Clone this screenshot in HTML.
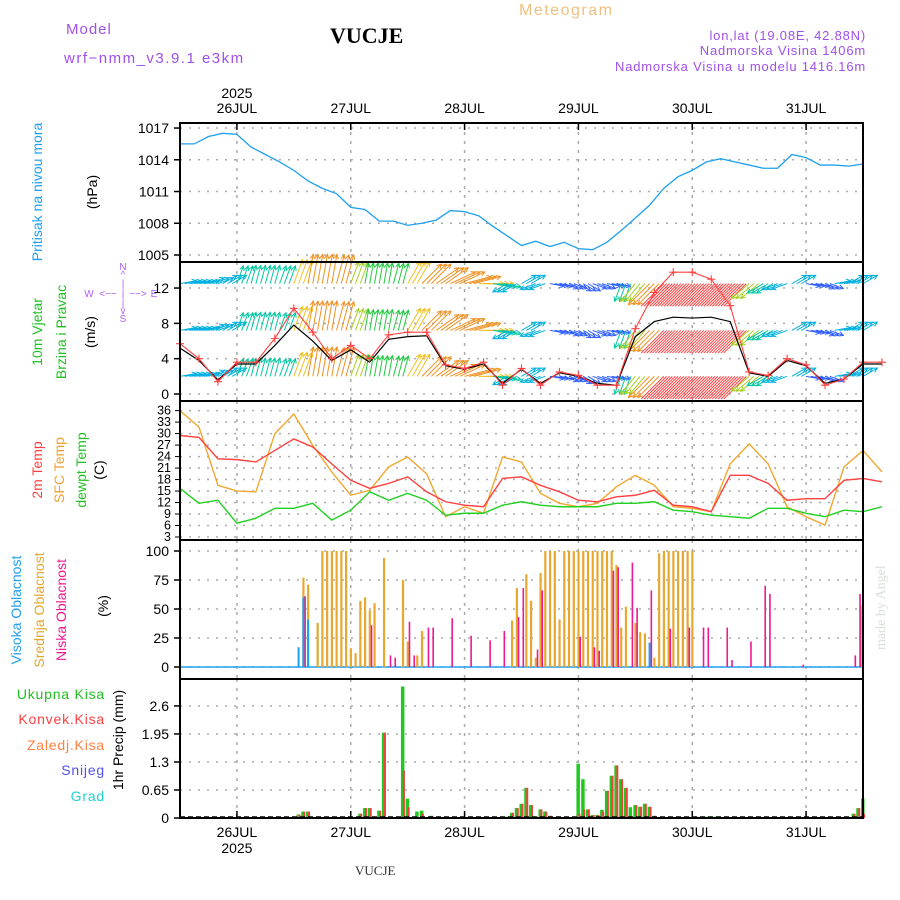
<!DOCTYPE html>
<html><head><meta charset="utf-8"><style>
body{margin:0;background:#fff;}
svg{display:block;font-family:"Liberation Sans",sans-serif;}
</style></head><body>
<svg id="c" width="900" height="900" viewBox="0 0 900 900" xmlns="http://www.w3.org/2000/svg">
<rect width="900" height="900" fill="#fff"/>
<text x="66" y="34" font-size="15" fill="#a050e8" letter-spacing="1">Model</text>
<text x="64" y="63" font-size="15" fill="#a050e8" letter-spacing="1.5">wrf−nmm_v3.9.1  e3km</text>
<text x="330" y="43" font-size="22" font-weight="bold" font-family="Liberation Serif,serif" fill="#000">VUCJE</text>
<text x="519" y="15" font-size="16" fill="#f0c080" letter-spacing="1.5">Meteogram</text>
<text x="866" y="40" font-size="13" fill="#a050e8" text-anchor="end" letter-spacing="0.8">lon,lat (19.08E, 42.88N)</text>
<text x="866" y="55" font-size="13" fill="#a050e8" text-anchor="end" letter-spacing="0.8">Nadmorska Visina 1406m</text>
<text x="866" y="71" font-size="13" fill="#a050e8" text-anchor="end" letter-spacing="0.8">Nadmorska Visina u modelu 1416.16m</text>
<text x="355" y="875" font-size="13" font-family="Liberation Serif,serif" fill="#333">VUCJE</text>
<text transform="translate(885,650) rotate(-90)" font-size="14" font-family="Liberation Serif,serif" fill="#d8e0d8">made by Angel</text>

<text transform="translate(42,192) rotate(-90)" font-size="14" fill="#1ea0f0" text-anchor="middle">Pritisak na nivou mora</text>
<text transform="translate(97,192) rotate(-90)" font-size="14" fill="#000" text-anchor="middle">(hPa)</text>
<text transform="translate(42,332) rotate(-90)" font-size="14" fill="#20c020" text-anchor="middle">10m Vjetar</text>
<text transform="translate(66,332) rotate(-90)" font-size="14" fill="#20c020" text-anchor="middle">Brzina i Pravac</text>
<text transform="translate(95,332) rotate(-90)" font-size="14" fill="#000" text-anchor="middle">(m/s)</text>
<g fill="#b060f0" font-size="10" text-anchor="middle">
<text x="123" y="270">N</text><text x="123" y="278">^</text><text x="123" y="287">|</text>
<text x="89" y="297">W</text><text x="108" y="297">&lt;−−</text><text x="123" y="297">|</text><text x="138" y="297">−−&gt;</text><text x="154" y="297">E</text>
<text x="123" y="307">|</text><text x="123" y="314">v</text><text x="123" y="322">S</text></g>
<text transform="translate(42,470) rotate(-90)" font-size="14" fill="#ff4040" text-anchor="middle">2m Temp</text>
<text transform="translate(64,470) rotate(-90)" font-size="14" fill="#f0a030" text-anchor="middle">SFC Temp</text>
<text transform="translate(86,470) rotate(-90)" font-size="14" fill="#20c020" text-anchor="middle">dewpt Temp</text>
<text transform="translate(104,470) rotate(-90)" font-size="14" fill="#000" text-anchor="middle">(C)</text>
<text transform="translate(21,610) rotate(-90)" font-size="14" fill="#1ea0f0" text-anchor="middle">Visoka Oblacnost</text>
<text transform="translate(44,610) rotate(-90)" font-size="14" fill="#e0a830" text-anchor="middle">Srednja Oblacnost</text>
<text transform="translate(66,610) rotate(-90)" font-size="14" fill="#f01890" text-anchor="middle">Niska Oblacnost</text>
<text transform="translate(108,606) rotate(-90)" font-size="14" fill="#000" text-anchor="middle">(%)</text>
<g font-size="14" text-anchor="end" letter-spacing="0.8">
<text x="105" y="699" fill="#20c020">Ukupna  Kisa</text>
<text x="105" y="724" fill="#ff4040">Konvek.Kisa</text>
<text x="105" y="750" fill="#ff8040">Zaledj.Kisa</text>
<text x="105" y="775" fill="#5050f0">Snijeg</text>
<text x="105" y="801" fill="#20d0d0">Grad</text></g>
<text transform="translate(123,740) rotate(-90)" font-size="14" fill="#000" text-anchor="middle">1hr Precip (mm)</text>
<g id="plot"></g>
</svg>
<script>
// ---------- data ----------
const dayLabels=["26JUL","27JUL","28JUL","29JUL","30JUL","31JUL"];
const dayHours=[12,36,60,84,108,132];
const pressTicks=[1005,1008,1011,1014,1017];
const windTicks=[0,4,8,12];
const tempTicks=[3,6,9,12,15,18,21,24,27,30,33,36];
const cloudTicks=[0,25,50,75,100];
const precipTicks=[0,0.65,1.3,1.95,2.6];
const pressure=[1015.5,1015.5,1016.2,1016.5,1016.4,1015.2,1014.5,1013.8,1013,1012,1011.3,1010.8,1009.5,1009.3,1008.2,1008.2,1007.8,1008,1008.3,1009.2,1009.1,1008.7,1007.7,1006.8,1005.9,1006.3,1005.8,1006.2,1005.6,1005.5,1006.2,1007.3,1008.5,1009.7,1011.3,1012.4,1013,1013.8,1014.1,1013.8,1013.5,1013.2,1013.2,1014.5,1014.2,1013.5,1013.5,1013.4,1013.6];
const temp2m=[29.5,29,23.4,23.2,22.6,25.6,28.6,26.5,22.1,17.8,15.7,17,18.7,14.8,12.2,11.3,10.9,18.3,18.7,16.5,14.8,12.6,12.2,13.5,13.9,15.2,11.3,10.9,9.6,19.1,19.1,17,12.6,13,13,17.8,18.3,17.4];
const tempSfc=[36,31.7,16.5,15,14.8,30,35.1,26.9,20,13.9,15.2,21.3,23.9,19.5,8.3,10.9,9.2,23.9,22.6,14.4,11.8,10.9,11.8,16.1,19.1,16.5,10.9,10.5,9.6,22.1,27.3,22.1,10.9,8.3,6.1,21.3,25.6,20];
const tempDew=[15.7,11.8,12.6,6.6,7.9,10.5,10.5,11.8,7.4,10,14.8,12.6,14.4,12.6,8.7,9.2,9.2,11.3,12.2,11.3,10.9,10.9,10.9,11.8,11.8,12.2,10,9.6,8.7,8.3,7.9,10.5,10.5,9.2,8.3,10,9.6,10.9];
const windSpeed=[5.7,4,1.4,3.6,3.6,6.3,9.7,7,4,5.5,4,6.7,7,7,3.3,2.9,3.6,1,2.9,1,2.5,2.1,1,1,7.4,11.5,13.8,13.8,13,10,2.5,2.1,4,3.3,1,1.7,3.6,3.6];
const windMean=[5.2,3.8,1.6,3.4,3.4,5.5,7.8,6,3.8,5,3.6,6.2,6.5,6.6,3.2,2.8,3.4,1.2,2.8,1.2,2.4,2,1.2,1,6.5,8.2,8.7,8.6,8.7,8.2,2.4,2,3.8,3.2,1.2,1.7,3.4,3.4];
const windDir=[80,80,70,60,20,15,15,20,20,10,10,15,20,10,10,15,30,45,55,65,75,90,100,240,60,250,100,110,120,110,100,200,220,225,225,225,225,225,225,225,230,240,250,60,100,110,80,60,60];
const windVec=[3,3,3,3,4,4,4,4,7,9,9,9,6,5,5,5,7,8,8,8,8,7,4,3,3,3,2,2,2,2,2,4,6,9,13,13,13,13,13,12,6,4,3,3,2,2,3,3,3];
const windRows=[2,7.2,12.5];
const midHours=[26,27,29,30,31,32,33,34,35,36,37,38,39,40,41,43,47,48,50,51,70,71,73,74,75,76,77,78,79,80,81,82,83,84,85,86,87,88,89,90,91,92,93,94,96,97,98,100,101,102,103,104,105,106,107,108,143.5];
const midVals=[77,71,38,100,100,100,100,100,100,16,12,57,60,49,55,94,75,22,10,31,40,68,80,57,8,81,100,100,100,41,100,100,100,100,100,100,100,100,100,100,100,88,34,52,38,30,29,8,98,100,100,100,100,100,100,100,53];
const lowHours=[26,40,44,45,48,49,52,53,57,61,65,68,71,72,75,76,84,87,88,91,92,95,96,99,103,107,110,111,115,116,120,123,124,131,142,143];
const lowVals=[61,36,10,8,39,10,34,34,42,27,23,31,43,68,15,66,26,17,14,83,86,90,51,66,33,34,34,34,34,6,22,70,63,2,10,63];
const highHours=[25,26,27,99];
const highVals=[17,60,41,21];
const rainHours=[25,26,27,38,39,40,42,43,47,48,50,51,53,68,69,70,71,72,73,74,75,76,77,78,84,85,86,87,88,89,90,91,92,93,94,95,96,97,98,99,100,109,110,111,112,113,142,143,144];
const rainTotal=[0.08,0.15,0.15,0.1,0.23,0.23,0.17,1.98,3.05,0.45,0.15,0.17,0.05,0.03,0.03,0.12,0.23,0.33,0.7,0.3,0.03,0.2,0.15,0.05,1.26,0.9,0.2,0.07,0.07,0.19,0.63,0.98,1.22,0.9,0.7,0.25,0.3,0.26,0.33,0.26,0.05,0.03,0.03,0.03,0.03,0.03,0.1,0.23,0.45];
const rainConv=[0.08,0.15,0.15,0.1,0.23,0.23,0.17,1.98,1.1,0.25,0,0.1,0.05,0.03,0.03,0.12,0.23,0.33,0.7,0.3,0.03,0.2,0.15,0.05,0.1,0.2,0.2,0.07,0.07,0.15,0.63,0.98,1.22,0.9,0.7,0,0.3,0.26,0.33,0.26,0.05,0,0,0,0,0,0.1,0.23,0.1];

// ---------- scales ----------
const X0=180,X1=863,HRS=144;
const xh=h=>X0+h*(X1-X0)/HRS;
const yP=p=>255-(p-1005)*10.58;
const yW=s=>394-s*8.83;
const yT=t=>537-(t-3)*3.83;
const yC=c=>667-c*1.16;
const yR=m=>818-m*43.1;
const panels=[[123,262],[262,401],[401,540],[540,679],[679,818]];
const NS="http://www.w3.org/2000/svg";
const plot=document.getElementById('plot');
function mk(tag,at,parent){const e=document.createElementNS(NS,tag);for(const k in at)e.setAttribute(k,at[k]);(parent||plot).appendChild(e);return e;}
function grp(name){const g=mk('g',{});


return g;}

const gridG=grp('grid');
panels.forEach(([a,b])=>{dayHours.forEach(h=>mk('line',{x1:xh(h),x2:xh(h),y1:a,y2:b,stroke:'#aaa','stroke-width':1.5,'stroke-dasharray':'3,6'},gridG));});
function hgrid(vals,f,a,b){vals.forEach(v=>{const y=f(v);if(y>a+2&&y<b-2)mk('line',{x1:X0,x2:X1,y1:y,y2:y,stroke:'#aaa','stroke-width':1.5,'stroke-dasharray':'2,7'},gridG);});}
hgrid(pressTicks,yP,123,262);hgrid(windTicks,yW,262,401);hgrid(tempTicks,yT,401,540);hgrid(cloudTicks,yC,540,679);hgrid(precipTicks,yR,679,818);

function ticks(vals,f,name){const g=grp(name);vals.forEach(v=>{const y=f(v);mk('line',{x1:X0-6,x2:X0,y1:y,y2:y,stroke:'#000','stroke-width':1.5},g);const t=mk('text',{x:X0-11,y:y+5,'font-size':14,'text-anchor':'end',fill:'#000'},g);t.textContent=v;});}
ticks(pressTicks,yP,'pressure-y-axis');ticks(windTicks,yW,'wind-y-axis');
const tg=grp('temp-y-axis');tempTicks.forEach(v=>{const y=yT(v);mk('line',{x1:X0-5,x2:X0,y1:y,y2:y,stroke:'#000'},tg);const t=mk('text',{x:X0-9,y:y+4,'font-size':12.5,'text-anchor':'end'},tg);t.textContent=v;});
ticks(cloudTicks,yC,'cloud-y-axis');ticks(precipTicks,yR,'precip-y-axis');

const topAx=grp('top-x-axis'),botAx=grp('bottom-x-axis');
dayLabels.forEach((d,i)=>{const x=xh(dayHours[i]);
let t=mk('text',{x:x,y:113,'font-size':14,'text-anchor':'middle'},topAx);t.textContent=d;
t=mk('text',{x:x,y:837,'font-size':14,'text-anchor':'middle'},botAx);t.textContent=d;
mk('line',{x1:x,x2:x,y1:123,y2:130,stroke:'#000','stroke-width':1.5},topAx);
mk('line',{x1:x,x2:x,y1:811,y2:818,stroke:'#000','stroke-width':1.5},botAx);});
let ty=mk('text',{x:xh(12),y:98,'font-size':14,'text-anchor':'middle'},topAx);ty.textContent='2025';
ty=mk('text',{x:xh(12),y:853,'font-size':14,'text-anchor':'middle'},botAx);ty.textContent='2025';

const pl=mk('polyline',{points:pressure.map((p,i)=>xh(i*3)+','+yP(p)).join(' '),fill:'none',stroke:'#1ea0f0','stroke-width':1.3});



function wcol(s){if(s<2)return '#8a2be2';if(s<3)return '#3060ff';if(s<4)return '#00b0e0';if(s<5)return '#00c8a0';if(s<6)return '#20c840';if(s<7)return '#a8d020';if(s<8)return '#f0c020';if(s<10)return '#f09020';return '#ff4040';}
const arrows=grp('wind-arrows');
windRows.forEach((r)=>{const y0=yW(r);
windDir.forEach((d,i)=>{const s=windVec[i];const a=d*Math.PI/180;const L=Math.min(10+s*2.2,32);
const col=wcol(s);
const reps=s>=10?5:3;
for(let k=0;k<reps;k++){const h=i*3+k*3/reps;if(h>HRS)break;const x0=xh(h);
const x1=x0+L*Math.sin(a),y1=y0-L*Math.cos(a);
mk('line',{x1:x0,y1:y0,x2:x1,y2:y1,stroke:col,'stroke-width':1},arrows);
if(s<10){const b1=a+Math.PI*0.85,b2=a-Math.PI*0.85;
mk('polyline',{points:`${x1+5*Math.sin(b1)},${y1-5*Math.cos(b1)} ${x1},${y1} ${x1+5*Math.sin(b2)},${y1-5*Math.cos(b2)}`,fill:'none',stroke:col,'stroke-width':1},arrows);}}
});});

const wm=mk('polyline',{points:windMean.map((v,i)=>xh(i*4)+','+yW(v)).join(' '),fill:'none',stroke:'#000','stroke-width':1.2});


const ws=mk('polyline',{points:windSpeed.map((v,i)=>xh(i*4)+','+yW(v)).join(' '),fill:'none',stroke:'#ff4040','stroke-width':1.1});


const crosses=grp('wind-speed-markers');
windSpeed.forEach((v,i)=>{const x=xh(i*4),y=yW(v);mk('path',{d:`M${x-4},${y}h8M${x},${y-4}v8`,stroke:'#ff4040','stroke-width':1.1},crosses);});

[[tempSfc,'#f0a830','temp-sfc-line'],[temp2m,'#ff4040','temp-2m-line'],[tempDew,'#20d020','dewpoint-line']].forEach(([arr,c,n])=>{
const l=mk('polyline',{points:arr.map((v,i)=>xh(i*4)+','+yT(v)).join(' '),fill:'none',stroke:c,'stroke-width':1.4});

});

const cl=grp('cloud-bars');
mk('line',{x1:X0,x2:X1,y1:yC(0),y2:yC(0),stroke:'#1ea0f0','stroke-width':1.5},cl);
midHours.forEach((h,i)=>mk('rect',{x:xh(h)-1,y:yC(midVals[i]),width:2.2,height:yC(0)-yC(midVals[i]),fill:'#e8a830'},cl));
lowHours.forEach((h,i)=>mk('rect',{x:xh(h)+1,y:yC(lowVals[i]),width:1.6,height:yC(0)-yC(lowVals[i]),fill:'#f01890'},cl));
highHours.forEach((h,i)=>mk('rect',{x:xh(h)-1,y:yC(highVals[i]),width:2,height:yC(0)-yC(highVals[i]),fill:'#1ea0f0'},cl));

const pr=grp('precip-bars');
rainHours.forEach((h,i)=>{mk('rect',{x:xh(h)-2,y:yR(rainTotal[i]),width:3.5,height:yR(0)-yR(rainTotal[i]),fill:'#20c820'},pr);
if(rainConv[i]>0)mk('rect',{x:xh(h),y:yR(rainConv[i]),width:2,height:yR(0)-yR(rainConv[i]),fill:'#f04040'},pr);});
mk('line',{x1:X0,x2:X1,y1:817,y2:817,stroke:'#000','stroke-width':1.5,'stroke-dasharray':'5,3'},pr);

const fr=grp('panel-frames');
panels.forEach(([a,b])=>mk('rect',{x:X0,y:a,width:X1-X0,height:b-a,fill:'none',stroke:'#000','stroke-width':2},fr));
</script>
</body></html>
